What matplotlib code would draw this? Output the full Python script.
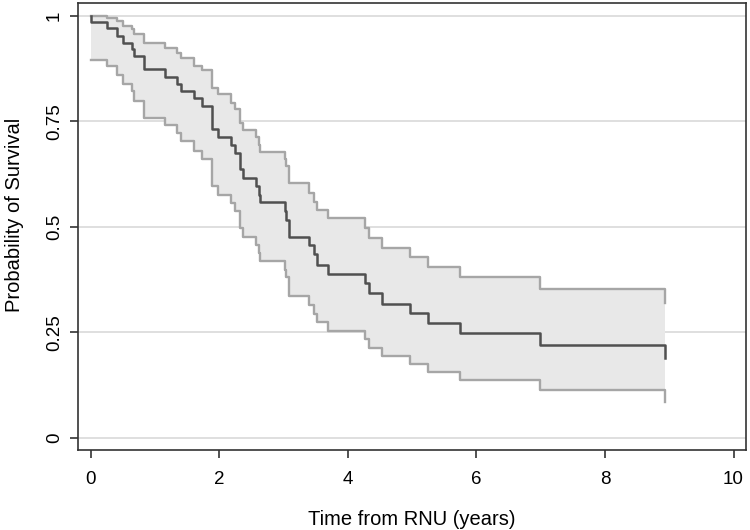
import numpy as np
import matplotlib.pyplot as plt

# Kaplan-Meier estimate (step times in years)
times = [0, 0.26, 0.41, 0.50, 0.65, 0.68, 0.83, 1.16, 1.35, 1.40, 1.61, 1.74,
         1.89, 1.98, 2.19, 2.25, 2.33, 2.37, 2.57, 2.62, 2.64, 3.02, 3.04, 3.09,
         3.40, 3.48, 3.53, 3.70, 4.27, 4.33, 4.53, 4.97, 5.25, 5.74, 6.99, 8.93]
survival = [0.985, 0.971, 0.953, 0.936, 0.921, 0.905, 0.874, 0.856, 0.838, 0.822,
            0.806, 0.786, 0.731, 0.714, 0.693, 0.674, 0.637, 0.617, 0.598, 0.576,
            0.558, 0.537, 0.517, 0.477, 0.456, 0.435, 0.410, 0.388, 0.366, 0.344,
            0.318, 0.296, 0.273, 0.249, 0.221, 0.188]
upper = [1.0, 0.995, 0.989, 0.977, 0.969, 0.957, 0.935, 0.925, 0.913, 0.901,
         0.882, 0.871, 0.830, 0.814, 0.794, 0.779, 0.747, 0.730, 0.714, 0.695,
         0.677, 0.660, 0.645, 0.603, 0.581, 0.560, 0.540, 0.520, 0.497, 0.473,
         0.449, 0.428, 0.405, 0.380, 0.352, 0.319]
lower = [0.896, 0.882, 0.861, 0.838, 0.821, 0.798, 0.758, 0.741, 0.723, 0.703,
         0.681, 0.661, 0.596, 0.576, 0.556, 0.537, 0.497, 0.477, 0.457, 0.437,
         0.418, 0.398, 0.380, 0.336, 0.314, 0.294, 0.274, 0.253, 0.234, 0.213,
         0.194, 0.175, 0.157, 0.137, 0.113, 0.086]

x_ticks = [0, 2, 4, 6, 8, 10]
y_ticks = [0, 0.25, 0.5, 0.75, 1]
y_ticklabels = ['0', '0.25', '0.5', '0.75', '1']

plt.rcParams['font.family'] = ['Liberation Sans', 'DejaVu Sans']

fig = plt.figure(figsize=(7.5, 5.3), dpi=100)
ax = fig.add_axes([0.1044, 0.1509, 0.8899, 0.8429])

for y in y_ticks:
    ax.axhline(y, color='#dcdcdc', lw=1.3, zorder=0)

ax.fill_between(times, lower, upper, step='post', color='#e8e8e8', lw=0, zorder=1)
ax.step(times, upper, where='post', color='#a6a6a6', lw=1.7, zorder=2)
ax.step(times, lower, where='post', color='#a6a6a6', lw=1.7, zorder=2)
# survival curve starts at 1 at time 0
ax.step([0] + times, [1.0] + survival, where='post', color='#505050', lw=1.8, zorder=3)

ax.set_xlim(-0.19, 10.19)
ax.set_ylim(-0.029, 1.03)
ax.set_xticks(x_ticks)
ax.set_yticks(y_ticks)
ax.set_yticklabels(y_ticklabels, rotation=90, va='center')
ax.tick_params(direction='out', length=6, width=1.2, color='#333333', labelsize=13.5)
ax.tick_params(axis='x', pad=9)
ax.tick_params(axis='y', pad=5)

for s in ax.spines.values():
    s.set_color('#333333')
    s.set_linewidth(1.2)

ax.set_xlabel('Time from RNU (years)', fontsize=14.5, labelpad=16)
ax.set_ylabel('Probability of Survival', fontsize=14.5)
ax.yaxis.set_label_coords(-0.082, 0.526)

fig.savefig('out.png', dpi=100)
